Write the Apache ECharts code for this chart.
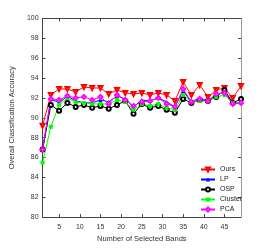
<!DOCTYPE html>
<html><head><meta charset="utf-8">
<script src="https://cdn.jsdelivr.net/npm/echarts@6/dist/echarts.min.js"></script>
<style>html,body{margin:0;padding:0;background:#fff}#c{width:266px;height:248px}</style>
</head><body><div id="c"></div>
<script>
const bands = [1,3,5,7,9,11,13,15,17,19,21,23,25,27,29,31,33,35,37,39,41,43,45,47,49];
const ours    = [89.2,92.3,92.9,92.9,92.6,93.1,93.0,93.0,92.4,92.8,92.5,92.4,92.5,92.3,92.5,92.3,91.7,93.6,92.3,93.3,92.1,92.8,93.0,92.0,93.2];
const lp      = [86.8,91.9,91.5,92.2,91.7,91.5,91.5,91.8,91.6,92.2,91.9,91.1,91.8,91.7,92.0,91.6,91.1,92.7,91.6,92.0,91.7,92.3,92.6,91.5,91.5];
const osp     = [86.8,91.3,90.7,91.5,91.1,91.3,91.0,91.2,90.9,91.3,91.7,90.4,91.4,91.0,91.2,90.8,90.5,91.9,91.5,91.8,91.7,92.1,92.8,91.5,91.9];
const cluster = [85.5,89.1,91.3,92.0,91.6,91.5,91.4,91.4,91.4,91.8,91.6,90.8,91.4,91.2,91.4,91.0,90.8,92.3,91.6,91.7,91.7,92.1,92.3,91.5,91.5];
const pca     = [86.8,91.9,91.8,92.2,92.0,92.1,91.8,92.1,91.4,92.3,91.8,91.2,91.6,91.7,92.0,91.4,91.1,92.9,91.6,91.9,91.7,92.4,92.5,91.4,91.5];
const xTicks = [5,10,15,20,25,30,35,40,45];
const seriesNames = ['Ours','LP','OSP','Cluster','PCA'];

const font = 'Liberation Sans, Arial, sans-serif';
const pair = arr => bands.map((b,i)=>[b,arr[i]]);
function mk(name, arr, color, symbol, rot){
  return {name, type:'line', data:pair(arr), symbol, symbolSize:4, symbolRotate:rot||0,
    showAllSymbol:true, lineStyle:{width:1,color}, itemStyle:{color, borderWidth:0.8}, animation:false};
}
const chart = echarts.init(document.getElementById('c'), null, {renderer:'canvas'});
const axisLineStyle = {color:'#444', width:1};
chart.setOption({
  backgroundColor:'#fff',
  animation:false,
  grid:{left:34, right:25, top:18.5, bottom:28},
  legend:{orient:'vertical', left:195, top:161, itemWidth:14, itemHeight:5, itemGap:3,
    data:seriesNames,
    textStyle:{fontFamily:font, fontSize:7, color:'#222'}},
  xAxis:[
    {type:'value', min:1, max:49, position:'bottom',
     name:'Number of Selected Bands', nameLocation:'middle', nameGap:15,
     nameTextStyle:{fontFamily:font, fontSize:7.5, color:'#333'},
     axisLine:{show:true, lineStyle:axisLineStyle},
     axisTick:{show:true, inside:true, length:3, customValues:xTicks, lineStyle:axisLineStyle},
     axisLabel:{customValues:xTicks, fontFamily:font, fontSize:7, color:'#333', margin:6},
     splitLine:{show:false}},
    {type:'value', min:1, max:49, position:'top',
     axisLine:{show:true, lineStyle:axisLineStyle},
     axisTick:{show:true, inside:true, length:3, customValues:xTicks, lineStyle:axisLineStyle},
     axisLabel:{show:false}, splitLine:{show:false}}
  ],
  yAxis:[
    {type:'value', min:80, max:100, interval:2, position:'left',
     name:'Overall Classification Accuracy', nameLocation:'middle', nameGap:17,
     nameTextStyle:{fontFamily:font, fontSize:7.5, color:'#333'},
     axisLine:{show:true, lineStyle:axisLineStyle},
     axisTick:{show:true, inside:true, length:3, lineStyle:axisLineStyle},
     axisLabel:{fontFamily:font, fontSize:7, color:'#333', margin:4},
     splitLine:{show:false}},
    {type:'value', min:80, max:100, interval:2, position:'right',
     axisLine:{show:true, lineStyle:{color:'#999', width:1}},
     axisTick:{show:true, inside:true, length:3, lineStyle:axisLineStyle},
     axisLabel:{show:false}, splitLine:{show:false}}
  ],
  series:[
    mk('Ours', ours, '#ff0000', 'emptyTriangle', 180),
    mk('LP', lp, '#0000ff', 'triangle'),
    mk('OSP', osp, '#000000', 'emptyCircle'),
    mk('Cluster', cluster, '#00ff00', 'rect'),
    mk('PCA', pca, '#ff00ff', 'emptyDiamond')
  ]
});
</script></body></html>
